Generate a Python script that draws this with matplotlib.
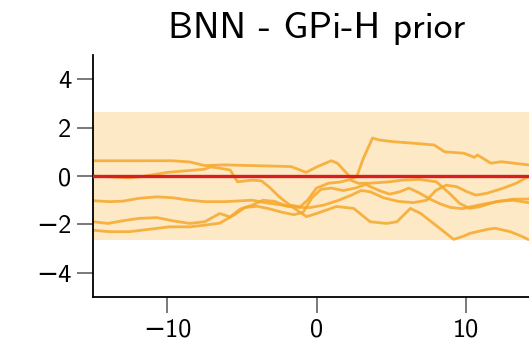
import numpy as np
import matplotlib
matplotlib.use("Agg")
import matplotlib.pyplot as plt

plt.rcParams['font.family'] = ['cmss10', 'DejaVu Sans']
plt.rcParams['axes.unicode_minus'] = True

# prior band (mean +/- 2 std) and the prior mean
band_x = [-15, 15]
band_mean = [0.0, 0.0]
band_half = 2.65

a_x = [-15, -9.7, -8.5, -7.5, -6.2, -1.7, -0.7, 0.07, 1.0, 1.4, 2.35, 2.7, 3.1, 3.4, 3.76,
       4.2, 5.1, 6.6, 7.9, 8.6, 9.9, 10.6, 10.8, 11.7, 12.4, 14.2, 15]
a_y = [0.63, 0.63, 0.58, 0.43, 0.46, 0.39, 0.15, 0.39, 0.63, 0.53, -0.1, -0.03, 0.66, 1.08, 1.57,
       1.49, 1.42, 1.35, 1.28, 1.0, 0.94, 0.77, 0.87, 0.53, 0.59, 0.46, 0.45]

b_x = [-15, -12.5, -11.5, -10, -7.5, -7.1, -5.8, -5.3, -4.3, -3.7, -3.2, -2.5, -1.8, -1.1, -0.6,
       0.0, 0.8, 1.6, 2.2, 2.8, 3.56, 4.9, 5.77, 6.9, 8.05, 8.93, 9.6, 10.27, 10.94, 12.08,
       13.15, 14.2, 15]
b_y = [0.0, -0.08, 0.0, 0.15, 0.28, 0.38, 0.25, -0.24, -0.17, -0.2, -0.44, -0.86, -1.2, -1.27, -1.0,
       -0.5, -0.3, -0.25, -0.15, -0.3, -0.3, -0.24, -0.17, -0.14, -0.24, -0.72, -1.13, -1.34, -1.27, -1.06,
       -0.96, -0.95, -0.95]

c_x = [-15, -13.9, -13, -11.9, -10.7, -9.66, -8.5, -7.5, -6.17, -4.3, -3.5, -1.7, -0.67, 0.0,
       1.34, 2.5, 3.6, 4.7, 5.4, 6.3, 7.0, 7.85, 8.7, 9.2, 9.8, 10.3, 11.5, 12.0, 13.0, 13.8,
       14.2, 15]
c_y = [-1.02, -1.06, -1.04, -0.92, -0.86, -0.9, -1.0, -1.06, -1.06, -1.0, -1.1, -1.25, -1.68, -1.55,
       -1.26, -1.34, -1.89, -1.96, -1.89, -1.34, -1.55, -1.96, -2.37, -2.62, -2.5, -2.37, -2.2, -2.16,
       -2.3, -2.5, -2.62, -2.68]

d_x = [-15, -14, -13, -11.9, -10.7, -9.66, -8.5, -7.5, -6.5, -5.8, -5.1, -4.3, -3.6, -2.8, -2.0,
       -1.2, -0.4, 0.5, 1.5, 2.3, 3.0, 3.6, 4.5, 5.5, 6.5, 7.4, 8.0, 8.7, 9.4, 10.1, 10.7, 11.4,
       12.5, 13.4, 14.2, 15]
d_y = [-1.89, -1.96, -1.85, -1.75, -1.72, -1.85, -1.96, -1.89, -1.55, -1.69, -1.36, -1.2, -1.0, -1.05,
       -1.25, -1.3, -1.3, -1.2, -1.0, -0.8, -0.6, -0.65, -0.9, -1.05, -1.1, -1.0, -0.6, -0.38, -0.44,
       -0.65, -0.79, -0.72, -0.51, -0.3, -0.03, 0.05]

e_x = [-15, -13.9, -12.55, -11.2, -9.87, -8.5, -7.5, -6.5, -5.5, -4.8, -4.0, -3.2, -2.3, -1.5,
       -0.9, -0.3, 0.3, 1.0, 1.8, 2.6, 3.3, 4.2, 4.9, 5.6, 6.2, 6.9, 7.6, 8.3, 9.0, 9.8, 10.5,
       11.3, 12.2, 13.2, 14.2, 15]
e_y = [-2.24, -2.3, -2.3, -2.2, -2.1, -2.1, -2.03, -1.95, -1.6, -1.3, -1.25, -1.35, -1.5, -1.6,
       -1.5, -0.9, -0.55, -0.5, -0.6, -0.5, -0.35, -0.6, -0.75, -0.65, -0.5, -0.7, -0.95, -1.15,
       -1.3, -1.35, -1.25, -1.15, -1.05, -1.0, -1.1, -1.15]

samples = [(a_x, a_y), (b_x, b_y), (c_x, c_y), (d_x, d_y), (e_x, e_y)]

fig = plt.figure(figsize=(5.29, 3.45), dpi=100)
ax = fig.add_axes([0.1758, 0.1391, 0.845, 0.7015])

lo = [m - band_half for m in band_mean]
hi = [m + band_half for m in band_mean]
ax.fill_between(band_x, lo, hi, color='#fde9c6', lw=0, zorder=1)

for sx, sy in samples:
    ax.plot(sx, sy, color='#f6a72a', lw=2.0, alpha=0.85, zorder=2)

ax.plot(band_x, band_mean, color='#d81e1e', lw=2.4, zorder=3)

ax.set_xlim(-15, 15)
ax.set_ylim(-5, 5)
ax.set_xticks([-10, 0, 10])
ax.set_yticks([-4, -2, 0, 2, 4])
ax.spines['top'].set_visible(False)
ax.spines['right'].set_visible(False)
ax.spines['left'].set_linewidth(1.3)
ax.spines['bottom'].set_linewidth(1.3)
ax.tick_params(direction='out', length=11.5, width=1.1, color='#555555', labelsize=19, pad=4)
ax.set_title('BNN - GPi-H prior', fontsize=27, pad=12)

fig.savefig('out.png', dpi=100)
